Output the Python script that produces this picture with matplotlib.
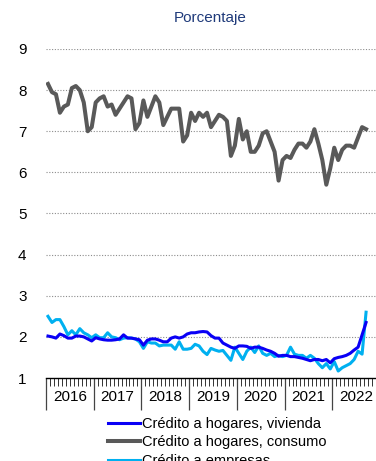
import numpy as np
import matplotlib
matplotlib.use('Agg')
from matplotlib import pyplot as plt

plt.rcParams['font.family'] = ['Liberation Sans', 'DejaVu Sans']

# monthly values, Jan 2016 - Sep 2022
vivienda = [2.02, 2.0, 1.97, 2.07, 2.03, 1.97, 1.97, 2.02, 2.02, 2.0, 1.95, 1.9,
            1.98, 1.95, 1.93, 1.92, 1.92, 1.93, 1.95, 2.05, 1.97, 1.97, 1.95, 1.93,
            1.8, 1.92, 1.95, 1.95, 1.92, 1.88, 1.88, 1.97, 2.0, 1.97, 2.0, 2.07,
            2.1, 2.1, 2.12, 2.13, 2.12, 2.03, 1.97, 1.97, 1.85, 1.8, 1.75, 1.72,
            1.78, 1.78, 1.77, 1.72, 1.75, 1.75, 1.72, 1.68, 1.65, 1.6, 1.53, 1.55,
            1.55, 1.52, 1.52, 1.5, 1.48, 1.45, 1.42, 1.45, 1.45, 1.42, 1.45, 1.37,
            1.47, 1.5, 1.52, 1.55, 1.6, 1.68, 1.75, 2.05, 2.35]
consumo = [8.15, 7.95, 7.9, 7.45, 7.6, 7.65, 8.05, 8.1, 8.0, 7.7, 7.0, 7.1,
           7.7, 7.8, 7.85, 7.6, 7.65, 7.4, 7.55, 7.7, 7.85, 7.8, 7.05, 7.2,
           7.75, 7.35, 7.6, 7.85, 7.7, 7.15, 7.35, 7.55, 7.55, 7.55, 6.75, 6.9,
           7.45, 7.25, 7.45, 7.35, 7.45, 7.1, 7.25, 7.4, 7.35, 7.25, 6.4, 6.65,
           7.3, 6.8, 7.0, 6.5, 6.5, 6.65, 6.95, 7.0, 6.75, 6.5, 5.8, 6.3,
           6.4, 6.35, 6.55, 6.7, 6.7, 6.6, 6.75, 7.05, 6.7, 6.3, 5.7, 6.1,
           6.6, 6.3, 6.55, 6.65, 6.65, 6.6, 6.85, 7.1, 7.05]
empresas = [2.5, 2.35, 2.42, 2.42, 2.25, 2.05, 2.15, 2.05, 2.2, 2.1, 2.05, 1.98,
            2.05, 1.98, 1.98, 2.1, 2.0, 1.98, 1.93, 1.97, 1.98, 1.97, 1.95, 1.88,
            1.72, 1.88, 1.85, 1.85, 1.78, 1.8, 1.8, 1.8, 1.7, 1.88, 1.7, 1.7,
            1.72, 1.82, 1.78, 1.65, 1.57, 1.72, 1.68, 1.65, 1.67, 1.55, 1.43, 1.75,
            1.6, 1.45, 1.65, 1.75, 1.62, 1.78, 1.6, 1.55, 1.6, 1.52, 1.55, 1.52,
            1.55, 1.75, 1.58, 1.55, 1.55, 1.48, 1.55, 1.48, 1.35, 1.25, 1.35, 1.22,
            1.4, 1.17, 1.25, 1.3, 1.35, 1.45, 1.65, 1.58, 2.6]
years = [2016, 2017, 2018, 2019, 2020, 2021, 2022]
labels = ['Crédito a hogares, vivienda', 'Crédito a hogares, consumo', 'Crédito a empresas']
colors = ['#0A00F5', '#595959', '#00B0F0']

x = 2016 + np.arange(len(consumo)) / 12 + 1 / 24

fig = plt.figure(figsize=(3.76, 4.61), dpi=100)
ax = fig.add_axes([46 / 376, 1 - 378 / 461, 1 - 46 / 376, (378 - 49) / 461])

for y in range(2, 10):
    ax.axhline(y, color='#8c8c8c', lw=0.8, ls=(0, (1, 1.5)), zorder=0)

ax.plot(x, vivienda, color=colors[0], lw=2.2, label=labels[0], zorder=3)
ax.plot(x, consumo, color=colors[1], lw=2.9, label=labels[1], zorder=2)
ax.plot(x, empresas, color=colors[2], lw=2.2, label=labels[2], zorder=2)

ax.set_ylim(1, 9)
ax.set_xlim(2016, 2016 + 330 / 49)
ax.set_yticks(range(1, 10))
ax.tick_params(axis='y', length=0, pad=14, labelsize=11)
ax.set_xticks(years)
ax.set_xticklabels([])
ax.set_xticks(2016 + np.arange(0, 84) / 12, minor=True)
ax.tick_params(axis='x', which='major', length=23, width=0.9, color='#444444')
ax.tick_params(axis='x', which='minor', length=5.8, width=0.7, color='#333333')
for s in ['left', 'right', 'top']:
    ax.spines[s].set_visible(False)
ax.spines['bottom'].set_linewidth(1.0)

for yr in years:
    ax.text(yr + 0.5, -0.058, str(yr), transform=ax.get_xaxis_transform(),
            ha='center', va='center', fontsize=11, clip_on=False)

fig.text(210 / 376, 1 - 18 / 461, 'Porcentaje', ha='center', va='center',
         fontsize=11, color='#1F3A7A')

fig.legend(loc='upper left', bbox_to_anchor=(108 / 376, 1 - 417 / 461),
           frameon=False, fontsize=10.5, handlelength=2.2, handletextpad=0.15,
           labelspacing=0.3, borderpad=0, borderaxespad=0)

plt.savefig('out.png', dpi=100)
